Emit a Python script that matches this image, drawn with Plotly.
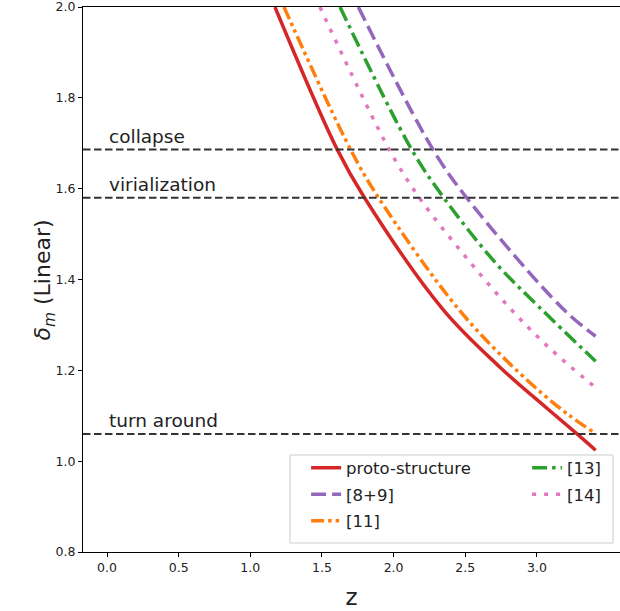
import plotly.graph_objects as go

# ---- data ----
z_proto = [1.172, 1.607, 1.797, 2.35, 2.742, 3.068, 3.28, 3.41]
d_proto = [2.0, 1.686, 1.58, 1.332, 1.207, 1.117, 1.06, 1.024]

z_89 = [1.754, 2.275, 2.51, 3.18, 3.41]
d_89 = [2.0, 1.686, 1.58, 1.336, 1.275]

z_11 = [1.235, 1.70, 1.895, 2.46, 2.882, 3.208, 3.41]
d_11 = [2.0, 1.686, 1.58, 1.332, 1.193, 1.105, 1.061]

z_13 = [1.626, 2.126, 2.35, 2.719, 3.02, 3.41]
d_13 = [2.0, 1.686, 1.58, 1.434, 1.338, 1.220]

z_14 = [1.486, 1.97, 2.18, 2.487, 2.80, 3.091, 3.41]
d_14 = [2.0, 1.686, 1.58, 1.456, 1.341, 1.248, 1.162]

thresholds = [1.686, 1.58, 1.06]
threshold_labels = ["collapse", "virialization", "turn around"]

x_ticks = [0.0, 0.5, 1.0, 1.5, 2.0, 2.5, 3.0]
y_ticks = [0.8, 1.0, 1.2, 1.4, 1.6, 1.8, 2.0]

FONT = "DejaVu Sans"
TXT = "#222222"
fig = go.Figure()

# (name, x, y, colour, dash, legend id)
series = [
    ("proto-structure", z_proto, d_proto, "#d62728", "solid", "legend"),
    ("[8+9]", z_89, d_89, "#9467bd", "15px,6px", "legend"),
    ("[11]", z_11, d_11, "#ff7f0e", "13px,4px,3.5px,4px,3.5px,4px", "legend"),
    ("[13]", z_13, d_13, "#2ca02c", "15px,5px,3.5px,5px", "legend2"),
    ("[14]", z_14, d_14, "#e377c2", "4px,8px", "legend2"),
]
for i, (name, zz, dd, col, dash, leg) in enumerate(series):
    fig.add_trace(go.Scatter(
        x=zz, y=dd, mode="lines", name=name, legend=leg, legendgroup=f"g{i}",
        line=dict(color=col, width=3.5, dash=dash, shape="spline", smoothing=1.0),
    ))

for val, lab in zip(thresholds, threshold_labels):
    fig.add_hline(y=val, line=dict(color="#333333", width=2, dash="7.5px,3.5px"))
    fig.add_annotation(x=0, y=val, xref="x", yref="y", text=lab, showarrow=False,
                       xanchor="left", yanchor="bottom", yshift=1,
                       font=dict(family=FONT, size=18.5, color=TXT))

# y-axis title placed as in the reference
fig.add_annotation(x=-0.0708, y=0.5, xref="paper", yref="paper",
                   text="<i>δ<sub>m</sub></i> (Linear)", textangle=-90,
                   showarrow=False, xanchor="center", yanchor="middle",
                   font=dict(family=FONT, size=22, color=TXT))

# legend frame (two legend columns share one box, as in the reference)
fig.add_shape(type="rect", xref="paper", yref="paper",
              x0=0.3855, x1=0.987, y0=0.0165, y1=0.178,
              line=dict(color="#cccccc", width=1), fillcolor="rgba(255,255,255,0.85)",
              layer="above")

leg_common = dict(orientation="v", yanchor="top", xanchor="left",
                  bgcolor="rgba(0,0,0,0)", borderwidth=0,
                  traceorder="grouped", tracegroupgap=2,
                  font=dict(family=FONT, size=16.5, color=TXT))

fig.update_layout(
    width=620, height=611,
    margin=dict(l=83, r=0, t=7, b=59, autoexpand=False),
    paper_bgcolor="white", plot_bgcolor="white",
    font=dict(family=FONT, color=TXT),
    showlegend=True,
    legend=dict(x=0.4155, y=0.186, **leg_common),
    legend2=dict(x=0.827, y=0.186, **leg_common),
    xaxis=dict(
        range=[-0.1675, 3.58], tickvals=x_ticks, tickformat=".1f",
        showline=True, linecolor="black", linewidth=1, mirror=True,
        ticks="outside", ticklen=4, tickcolor="black",
        showgrid=False, zeroline=False, automargin=False,
        ticklabeloverflow="allow",
        tickfont=dict(family=FONT, size=12.5, color=TXT),
        title=dict(text="z", font=dict(family=FONT, size=23, color=TXT), standoff=14),
    ),
    yaxis=dict(
        range=[0.8, 2.0], tickvals=y_ticks, tickformat=".1f",
        showline=True, linecolor="black", linewidth=1,
        ticks="outside", ticklen=4, tickcolor="black",
        showgrid=False, zeroline=False, automargin=False,
        ticklabeloverflow="allow",
        tickfont=dict(family=FONT, size=12.5, color=TXT),
    ),
)

# remove the page's default body margin so the 620x611 figure fills the window
fig.write_html("out.html",
               config={"displayModeBar": False},
               post_script="document.body.style.margin='0px';document.body.style.overflow='hidden';")
